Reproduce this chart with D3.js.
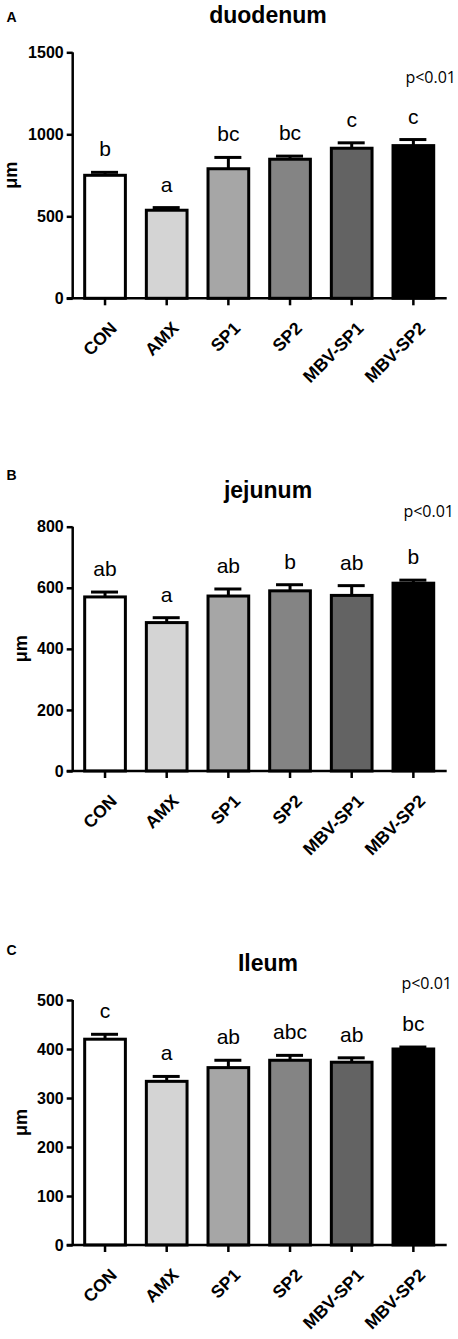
<!DOCTYPE html>
<html>
<head>
<meta charset="utf-8">
<script src="https://cdn.jsdelivr.net/npm/d3@7"></script>
<style>
  body { margin: 0; background: #fff; }
  text { font-family: Arial, "Liberation Sans", sans-serif; }
</style>
</head>
<body>
<div id="chart"></div>
<script>
// groups and fills
var groups = ["CON", "AMX", "SP1", "SP2", "MBV-SP1", "MBV-SP2"]
var fills = ["#ffffff", "#d4d4d4", "#a6a6a6", "#848484", "#636363", "#000000"]

// duodenum
var duodenumMean = [750, 537, 790, 848, 915, 931]
var duodenumErr = [18, 16, 69, 19, 33, 37]
var duodenumLetters = ["b", "a", "bc", "bc", "c", "c"]
var duodenumTicks = [0, 500, 1000, 1500]

// jejunum
var jejunumMean = [570, 486, 573, 590, 575, 615]
var jejunumErr = [16, 16, 23, 20, 32, 10]
var jejunumLetters = ["ab", "a", "ab", "b", "ab", "b"]
var jejunumTicks = [0, 200, 400, 600, 800]

// ileum
var ileumMean = [420, 334, 362, 377, 373, 400]
var ileumErr = [10, 10, 15, 10, 9, 4]
var ileumLetters = ["c", "a", "ab", "abc", "ab", "bc"]
var ileumTicks = [0, 100, 200, 300, 400, 500]

var panelLetters = ["A", "B", "C"]
var panelTitles = ["duodenum", "jejunum", "Ileum"]
var yLabel = "\u03bcm"
var pText = "p<0.01"

// layout per panel (pixel positions only)
var layout = [
    {top: 52.3, bottom: 298.3, letterY: 21.7, pY: 83.3, pX: 456, labX: 17},
    {top: 526.7, bottom: 771, letterY: 480, pY: 516.5, pX: 454, labX: 27},
    {top: 1000, bottom: 1245, letterY: 955, pY: 988.5, pX: 452, labX: 27}
]

var panels = [
    {mean: duodenumMean, err: duodenumErr, letters: duodenumLetters, ticks: duodenumTicks},
    {mean: jejunumMean, err: jejunumErr, letters: jejunumLetters, ticks: jejunumTicks},
    {mean: ileumMean, err: ileumErr, letters: ileumLetters, ticks: ileumTicks}
]

var W = 458, H = 1339
var axisX = 72.7, xEnd = 446.7

var svg = d3.select("#chart").append("svg")
    .attr("width", W)
    .attr("height", H)

var xScale = d3.scaleBand().domain(groups).range([74.2, 444.2])
    .paddingInner(0.34).paddingOuter(0.17)

panels.forEach(function(p, k) {
    var L = layout[k]
    var ticks = p.ticks
    var yScale = d3.scaleLinear().domain([0, ticks[ticks.length - 1]]).range([L.bottom, L.top])
    var g = svg.append("g")

    var rows = groups.map(function(name, i) {
        return {name: name, mean: p.mean[i], err: p.err[i], letter: p.letters[i], fill: fills[i]}
    })

    /* bars */
    g.selectAll(".bar").data(rows).enter()
        .append("rect")
        .attr("class", "bar")
        .attr("x", d => xScale(d.name))
        .attr("width", xScale.bandwidth())
        .attr("y", d => yScale(d.mean))
        .attr("height", d => yScale(0) - yScale(d.mean))
        .attr("fill", d => d.fill)
        .attr("stroke", "#000")
        .attr("stroke-width", 3)

    /* error bars */
    var cx = d => xScale(d.name) + xScale.bandwidth() / 2
    g.selectAll(".err").data(rows).enter()
        .append("line")
        .attr("x1", cx).attr("x2", cx)
        .attr("y1", d => yScale(d.mean))
        .attr("y2", d => yScale(d.mean + d.err))
        .attr("stroke", "#000").attr("stroke-width", 3)
    g.selectAll(".cap").data(rows).enter()
        .append("line")
        .attr("x1", d => cx(d) - 14).attr("x2", d => cx(d) + 13)
        .attr("y1", d => yScale(d.mean + d.err))
        .attr("y2", d => yScale(d.mean + d.err))
        .attr("stroke", "#000").attr("stroke-width", 3)

    /* significance letters */
    g.selectAll(".sig").data(rows).enter()
        .append("text")
        .attr("x", cx)
        .attr("y", d => yScale(d.mean + d.err) - 16)
        .attr("text-anchor", "middle")
        .attr("font-size", "21px")
        .text(d => d.letter)

    /* y axis */
    var yAxis = d3.axisLeft(yScale).tickValues(ticks).tickSize(6).tickPadding(3)
        .tickFormat(d3.format("d"))
    var ya = g.append("g")
        .attr("transform", "translate(" + axisX + ",0)")
        .call(yAxis)
    ya.select(".domain").attr("stroke-width", 2.5)
        .attr("d", "M0," + L.top + "V" + L.bottom)
    ya.selectAll(".tick line").attr("stroke-width", 2.5)
    ya.selectAll(".tick text")
        .attr("font-size", "16px")
        .attr("font-weight", "bold")
        .attr("font-family", "Arial, 'Liberation Sans', sans-serif")
        .attr("fill", "#000")

    /* x axis */
    g.append("line")
        .attr("x1", axisX - 6).attr("x2", xEnd)
        .attr("y1", L.bottom).attr("y2", L.bottom)
        .attr("stroke", "#000").attr("stroke-width", 2.5)
    g.selectAll(".xtick").data(rows).enter()
        .append("line")
        .attr("x1", cx).attr("x2", cx)
        .attr("y1", L.bottom).attr("y2", L.bottom + 7)
        .attr("stroke", "#000").attr("stroke-width", 2.5)
    g.selectAll(".xlab").data(rows).enter()
        .append("text")
        .attr("transform", d => "translate(" + (cx(d) + 13) + "," + (L.bottom + 31) + ") rotate(-45)")
        .attr("text-anchor", "end")
        .attr("font-size", "17.5px")
        .attr("font-weight", "bold")
        .text(d => d.name)

    /* y label */
    g.append("text")
        .attr("transform", "translate(" + L.labX + "," + ((L.top + L.bottom) / 2) + ") rotate(-90)")
        .attr("text-anchor", "middle")
        .attr("font-size", "18px")
        .attr("font-weight", "bold")
        .text(yLabel)

    /* title */
    g.append("text")
        .attr("x", 268)
        .attr("y", L.top - 29)
        .attr("text-anchor", "middle")
        .attr("font-size", "23px")
        .attr("font-weight", "bold")
        .text(panelTitles[k])

    /* panel letter */
    g.append("text")
        .attr("x", 6.5)
        .attr("y", L.letterY)
        .attr("font-size", "14px")
        .attr("font-weight", "bold")
        .text(panelLetters[k])

    /* p value */
    g.append("text")
        .attr("x", L.pX)
        .attr("y", L.pY)
        .attr("text-anchor", "end")
        .attr("font-size", "16px")
        .style("font-family", "'Open Sans', sans-serif")
        .text(pText)
})
</script>
</body>
</html>
